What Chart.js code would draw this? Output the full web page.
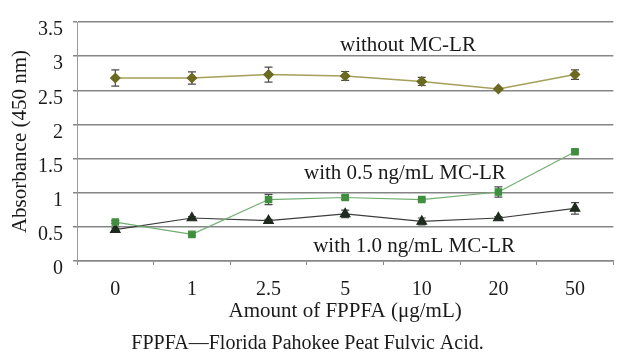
<!DOCTYPE html>
<html>
<head>
<meta charset="utf-8">
<script src="https://cdn.jsdelivr.net/npm/chart.js@4"></script>
<style>
  html, body { margin: 0; padding: 0; background: #fff; }
  #wrap { width: 620px; height: 354px; }
</style>
</head>
<body>
<div id="wrap"><canvas id="grafico" width="620" height="354"></canvas></div>
<script>
// FPPFA amounts (µg/mL)
const doses = ['0', '1', '2.5', '5', '10', '20', '50'];

// absorbance at 450 nm, with standard error
const semMC    = [2.68, 2.68, 2.73, 2.71, 2.63, 2.52, 2.73];
const semMCErr = [0.12, 0.09, 0.11, 0.065, 0.06, 0.01, 0.07];
const mc05     = [0.57, 0.39, 0.90, 0.93, 0.90, 1.01, 1.60];
const mc05Err  = [0.02, 0.02, 0.075, 0.03, 0.02, 0.075, 0.02];
const mc10     = [0.46, 0.63, 0.59, 0.69, 0.58, 0.63, 0.77];
const mc10Err  = [0.02, 0.02, 0.02, 0.055, 0.05, 0.02, 0.085];

const yTicks = [0, 0.5, 1, 1.5, 2, 2.5, 3, 3.5];

// text inside the plot: [text, category index, y value]
const rotulos = [
  ['without MC-LR', 3.82, 3.15],
  ['with 0.5 ng/mL MC-LR', 3.78, 1.28],
  ['with 1.0 ng/mL MC-LR', 3.9, 0.21]
];

const serif = '"Liberation Serif", "Times New Roman", serif';

// error bars drawn from each point through the y scale
const barrasErro = {
  id: 'barrasErro',
  beforeDatasetsDraw(chart) {
    const ctx = chart.ctx;
    const y = chart.scales.y;
    chart.data.datasets.forEach((ds, i) => {
      const meta = chart.getDatasetMeta(i);
      ctx.save();
      ctx.strokeStyle = '#4a4a4a';
      ctx.lineWidth = 1.2;
      meta.data.forEach((pt, j) => {
        const e = ds.erros[j];
        const v = ds.data[j];
        const top = y.getPixelForValue(v + e);
        const bot = y.getPixelForValue(v - e);
        ctx.beginPath();
        ctx.moveTo(pt.x, top); ctx.lineTo(pt.x, bot);
        ctx.moveTo(pt.x - 4, top); ctx.lineTo(pt.x + 4, top);
        ctx.moveTo(pt.x - 4, bot); ctx.lineTo(pt.x + 4, bot);
        ctx.stroke();
      });
      ctx.restore();
    });
  }
};

const textos = {
  id: 'textos',
  afterDraw(chart) {
    const ctx = chart.ctx;
    ctx.save();
    ctx.font = '21px ' + serif;
    ctx.fillStyle = '#1a1a1a';
    ctx.textAlign = 'center';
    ctx.textBaseline = 'middle';
    rotulos.forEach(([t, xi, yv]) => {
      ctx.fillText(t, chart.scales.x.getPixelForValue(xi), chart.scales.y.getPixelForValue(yv));
    });
    ctx.restore();
  }
};

new Chart(document.getElementById('grafico'), {
  type: 'line',
  data: {
    labels: doses,
    datasets: [
      {
        data: semMC, erros: semMCErr,
        borderColor: '#a59f5a', borderWidth: 1.5,
        pointStyle: 'rectRot', pointRadius: 4.5,
        pointBackgroundColor: '#6b6a20', pointBorderColor: '#6b6a20'
      },
      {
        data: mc05, erros: mc05Err,
        borderColor: '#6fae6f', borderWidth: 1.2,
        pointStyle: 'rect', pointRadius: 4.5,
        pointBackgroundColor: '#3f8f3f', pointBorderColor: '#3f8f3f'
      },
      {
        data: mc10, erros: mc10Err,
        borderColor: '#3d3d3d', borderWidth: 1.2,
        pointStyle: 'triangle', pointRadius: 5.5,
        pointBackgroundColor: '#1f2b1f', pointBorderColor: '#1f2b1f'
      }
    ]
  },
  options: {
    responsive: false,
    animation: false,
    layout: { padding: { top: 13, right: 5, left: 0, bottom: 0 } },
    plugins: {
      legend: { display: false },
      tooltip: { enabled: false },
      title: {
        display: true,
        position: 'bottom',
        text: 'FPPFA\u2014Florida Pahokee Peat Fulvic Acid.',
        color: '#1a1a1a',
        font: { family: serif, size: 20, weight: 'normal', lineHeight: 1 },
        padding: { top: 0, bottom: 0 }
      }
    },
    scales: {
      x: {
        offset: true,
        grid: { offset: true, drawOnChartArea: false, drawTicks: true, tickLength: 4, color: '#888' },
        border: { display: true, color: '#888', width: 1.5 },
        ticks: { color: '#1a1a1a', padding: 13, font: { family: serif, size: 20 } },
        title: {
          display: true,
          text: 'Amount of FPPFA (\u03bcg/mL)',
          color: '#1a1a1a',
          font: { family: serif, size: 21 },
          padding: { top: 0, bottom: 10 }
        },
        afterFit(s) { s.height = 73; }
      },
      y: {
        min: 0, max: 3.5,
        afterBuildTicks(s) { s.ticks = yTicks.map(v => ({ value: v })); },
        grid: { color: '#858585', lineWidth: 1.5, tickLength: 4 },
        border: { display: true, color: '#999', width: 1 },
        ticks: {
          color: '#1a1a1a', padding: 10, labelOffset: 8,
          font: { family: serif, size: 20 },
          callback: v => String(v)
        },
        title: {
          display: true,
          text: 'Absorbance (450 nm)',
          color: '#1a1a1a',
          font: { family: serif, size: 21 },
          padding: { top: 8, bottom: 0 }
        },
        afterFit(s) { s.width = 77; }
      }
    }
  },
  plugins: [barrasErro, textos]
});
</script>
</body>
</html>
